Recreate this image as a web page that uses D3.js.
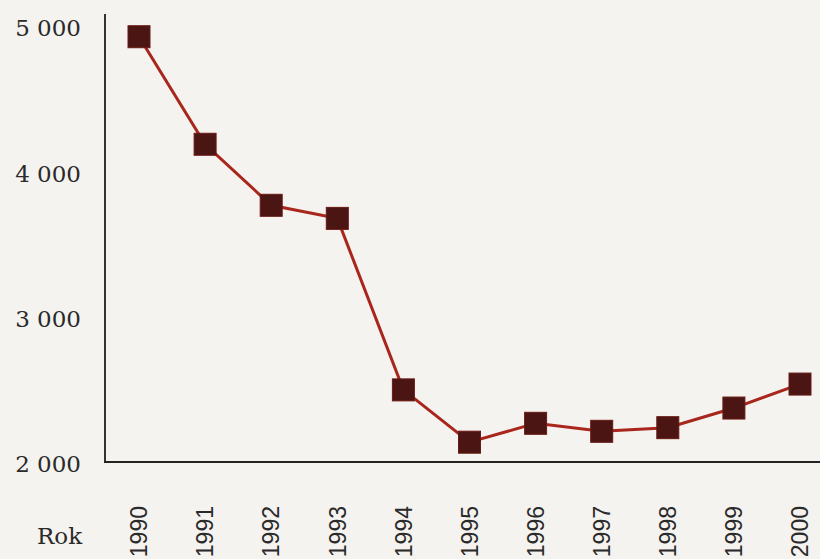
<!DOCTYPE html>
<html>
<head>
<meta charset="utf-8">
<script src="https://cdn.jsdelivr.net/npm/d3@7"></script>
<style>
  body { margin: 0; background: #f5f3ef; }
</style>
</head>
<body>
<svg id="canvas" width="820" height="559"></svg>
<script>
const svg = d3.select("#canvas");
const width = 820;
const height = 559;

const years = ["1990", "1991", "1992", "1993", "1994", "1995", "1996", "1997", "1998", "1999", "2000"];
const values = [4940, 4200, 3780, 3690, 2510, 2150, 2280, 2225, 2250, 2385, 2550];
const yTicks = [2000, 3000, 4000, 5000];

svg.append("rect")
    .attr("width", width)
    .attr("height", height)
    .attr("fill", "#f5f3ef");

const x = d3.scalePoint()
    .domain(years)
    .range([139, 800]);

const y = d3.scaleLinear()
    .domain([2000, 5000])
    .range([464, 28]);

// axes lines
svg.append("line")
    .attr("x1", 105).attr("x2", 105)
    .attr("y1", 14).attr("y2", 462)
    .attr("stroke", "#333")
    .attr("stroke-width", 2);

svg.append("line")
    .attr("x1", 104).attr("x2", width)
    .attr("y1", 462).attr("y2", 462)
    .attr("stroke", "#222")
    .attr("stroke-width", 2);

// y tick labels
svg.selectAll("text.ytick")
    .data(yTicks)
    .enter()
    .append("text")
    .attr("class", "ytick")
    .attr("x", 81)
    .attr("y", d => y(d))
    .attr("dy", "0.36em")
    .attr("text-anchor", "end")
    .attr("font-family", "'DejaVu Serif', 'Liberation Serif', serif")
    .attr("font-size", "23px")
    .attr("fill", "#2a2a2a")
    .text(d => d3.format(",")(d).replace(",", " "));

// x tick labels (rotated)
svg.selectAll("text.xtick")
    .data(years)
    .enter()
    .append("text")
    .attr("class", "xtick")
    .attr("transform", d => `translate(${x(d)},506) rotate(-90)`)
    .attr("dy", "0.36em")
    .attr("text-anchor", "end")
    .attr("font-family", "'Liberation Sans', Arial, sans-serif")
    .attr("font-size", "23px")
    .attr("fill", "#2a2a2a")
    .text(d => d);

svg.append("text")
    .attr("x", 37)
    .attr("y", 544)
    .attr("font-family", "'DejaVu Serif', 'Liberation Serif', serif")
    .attr("font-size", "23px")
    .attr("fill", "#2a2a2a")
    .text("Rok");

const line = d3.line()
    .x((d, i) => x(years[i]))
    .y(d => y(d));

svg.append("path")
    .datum(values)
    .attr("d", line)
    .attr("fill", "none")
    .attr("stroke", "#a8261c")
    .attr("stroke-width", 3);

const size = 22;
svg.selectAll("rect.marker")
    .data(values)
    .enter()
    .append("rect")
    .attr("class", "marker")
    .attr("x", (d, i) => x(years[i]) - size / 2)
    .attr("y", d => y(d) - size / 2)
    .attr("width", size)
    .attr("height", size)
    .attr("fill", "#4a1512")
    .attr("stroke", "#6a1a14")
    .attr("stroke-width", 1);
</script>
</body>
</html>
